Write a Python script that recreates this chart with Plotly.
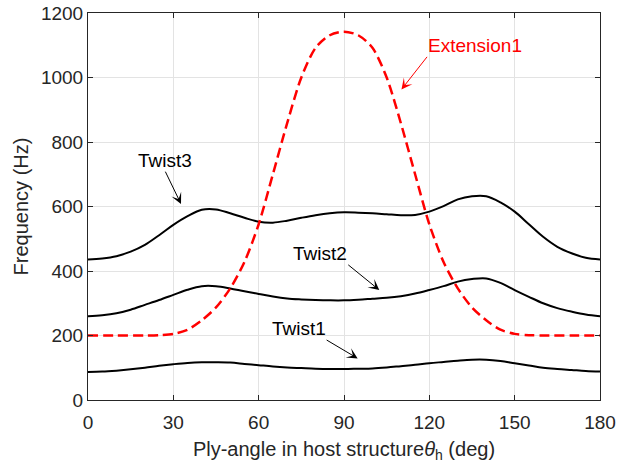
import plotly.graph_objects as go

# Natural frequencies (Hz) versus host-structure ply angle (deg)
angle = [0, 5, 10, 15, 20, 25, 30, 35, 40, 45, 50, 55, 60, 65, 70, 75, 80, 85, 90,
         95, 100, 105, 110, 115, 120, 125, 130, 135, 140, 145, 150, 155, 160, 165, 170, 175, 180]

twist1_freq = [87, 88, 91, 95, 100, 106, 111, 115, 117, 117, 116, 112, 108, 104, 101, 99, 97, 96, 96,
               97, 98, 101, 105, 109, 114, 118, 122, 125, 125, 121, 114, 107, 100, 96, 93, 90, 88]
twist2_freq = [260, 263, 269, 280, 295, 310, 326, 342, 353, 353, 346, 337, 329, 321, 315, 312, 310, 309, 309,
               311, 314, 317, 322, 330, 341, 353, 367, 375, 377, 363, 341, 320, 300, 285, 274, 265, 260]
twist3_freq = [436, 439, 446, 460, 481, 511, 543, 570, 590, 591, 579, 565, 553, 550, 556, 565, 573, 579, 582,
               581, 579, 576, 573, 574, 584, 601, 622, 632, 632, 613, 584, 545, 506, 475, 455, 441, 436]

ext_angle = [0, 10, 20, 25, 30, 35, 40, 45, 50, 55, 60, 65, 70, 75, 80, 85, 90,
             95, 100, 105, 110, 115, 120, 125, 130, 135, 140, 145, 150, 155, 160, 170, 180]
ext1_freq = [200, 200, 200, 201, 205, 218, 247, 287, 346, 428, 545, 700, 858, 1000, 1092, 1131, 1142,
             1131, 1092, 1000, 858, 700, 545, 428, 346, 287, 247, 218, 205, 201, 200, 200, 200]

x_ticks = [0, 30, 60, 90, 120, 150, 180]
y_ticks = [0, 200, 400, 600, 800, 1000, 1200]

FONT = "Liberation Sans, Arial, Helvetica, sans-serif"
AX = "#262626"

fig = go.Figure()
for fr in (twist1_freq, twist2_freq, twist3_freq):
    fig.add_trace(go.Scatter(x=angle, y=fr, mode="lines",
                             line=dict(color="black", width=2, shape="spline", smoothing=1.0),
                             showlegend=False, hoverinfo="skip"))
fig.add_trace(go.Scatter(x=ext_angle, y=ext1_freq, mode="lines",
                         line=dict(color="#ff0000", width=2.5, dash="10px,5px",
                                   shape="spline", smoothing=0.8),
                         showlegend=False, hoverinfo="skip"))

# mode labels: (text, colour, arrow tail, arrow head, text anchor at tail)
labels = [
    ("Extension1", "#ff0000", (119.2, 1064), (110.2, 963), ("left", "bottom")),
    ("Twist3", "black", (27.2, 708), (32.7, 608), ("center", "bottom")),
    ("Twist2", "black", (91.5, 419), (102.4, 341), ("right", "bottom")),
    ("Twist1", "black", (83.9, 186), (94.8, 129), ("right", "bottom")),
]
for txt, col, tail, head, (xa, ya) in labels:
    fig.add_annotation(x=head[0], y=head[1], ax=tail[0], ay=tail[1], axref="x", ayref="y",
                       text=txt, xanchor=xa, yanchor=ya, borderpad=0,
                       font=dict(family=FONT, size=19, color=col),
                       showarrow=True, arrowhead=3, arrowsize=1.8, arrowwidth=1,
                       arrowcolor=col)

fig.update_layout(
    width=617, height=468,
    margin=dict(l=88, r=17, t=13, b=68),
    paper_bgcolor="white", plot_bgcolor="white",
    font=dict(family=FONT, size=19, color=AX),
)
fig.update_xaxes(range=[0, 180], tickvals=x_ticks, ticks="inside", ticklen=5, tickcolor=AX,
                 showline=True, linecolor=AX, linewidth=1, mirror="ticks",
                 showgrid=True, gridcolor="#e3e3e3", gridwidth=1, zeroline=False,
                 automargin=False, tickfont=dict(size=19, color=AX), ticklabelstandoff=5,
                 title=dict(text="Ply-angle in host structure<i>θ</i><sub>h</sub> (deg)",
                            font=dict(size=20, color=AX), standoff=10))
fig.update_yaxes(range=[0, 1200], tickvals=y_ticks, ticks="inside", ticklen=5, tickcolor=AX,
                 showline=True, linecolor=AX, linewidth=1, mirror="ticks",
                 showgrid=True, gridcolor="#e3e3e3", gridwidth=1, zeroline=False,
                 automargin=False, tickfont=dict(size=19, color=AX),
                 title=dict(text="Frequency (Hz)", font=dict(size=20, color=AX), standoff=6))

fig.write_html("out.html")
